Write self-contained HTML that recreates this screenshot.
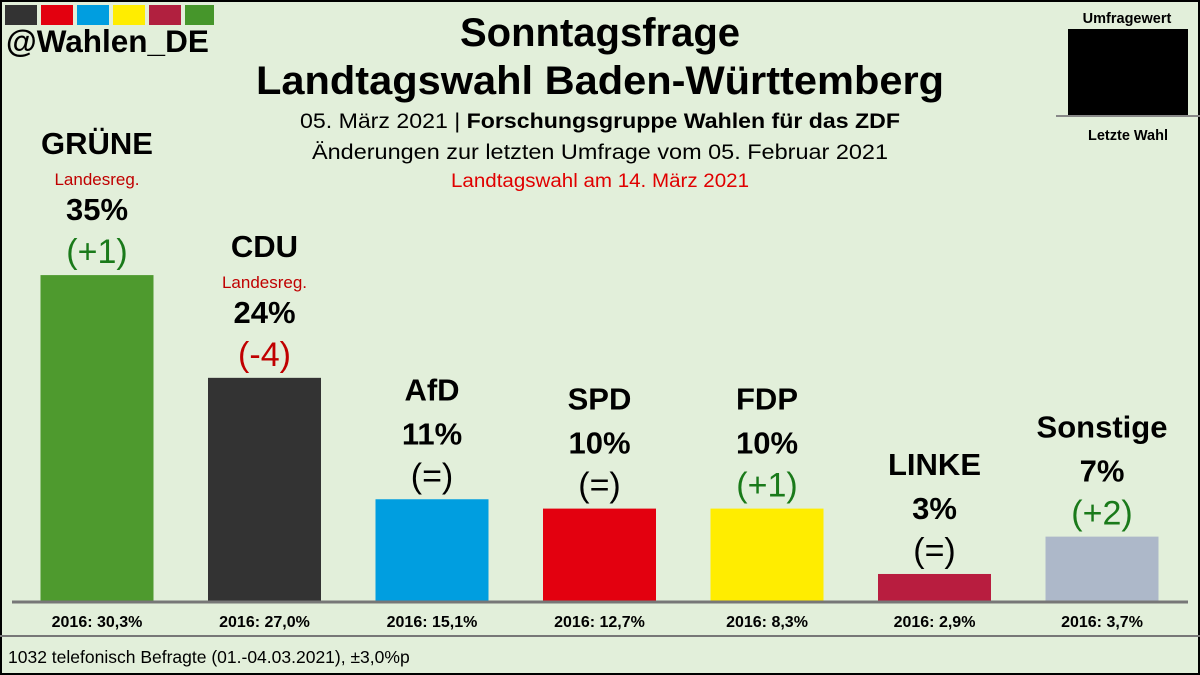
<!DOCTYPE html>
<html><head><meta charset="utf-8"><style>
html,body{margin:0;padding:0;background:#e2efda;}
svg{display:block;font-family:"Liberation Sans","DejaVu Sans",sans-serif;}
</style></head><body>
<svg id="c" width="1200" height="675" viewBox="0 0 1200 675">
<rect x="0" y="0" width="1200" height="675" fill="#e2efda"/>
<rect x="1" y="1" width="1198" height="673" fill="none" stroke="#000" stroke-width="2"/>
<g>
<rect x="5" y="5" width="32" height="20" fill="#333"/><rect x="41" y="5" width="32" height="20" fill="#e3000f"/><rect x="77" y="5" width="32" height="20" fill="#009ee0"/><rect x="113" y="5" width="32" height="20" fill="#ffed00"/><rect x="149" y="5" width="32" height="20" fill="#b1203f"/><rect x="185" y="5" width="29" height="20" fill="#46962b"/>
</g>
<text x="6" y="52" font-size="31.5" font-weight="bold">@Wahlen_DE</text>
<text x="600" y="46" font-size="40" font-weight="bold" text-anchor="middle">Sonntagsfrage</text>
<text x="600" y="94" font-size="40" font-weight="bold" text-anchor="middle" textLength="688" lengthAdjust="spacingAndGlyphs">Landtagswahl Baden-Württemberg</text>
<text x="600" y="128" font-size="21" text-anchor="middle" textLength="600" lengthAdjust="spacingAndGlyphs">05. März 2021 | <tspan font-weight="bold">Forschungsgruppe Wahlen für das ZDF</tspan></text>
<text x="600" y="159" font-size="21" text-anchor="middle" textLength="576" lengthAdjust="spacingAndGlyphs">Änderungen zur letzten Umfrage vom 05. Februar 2021</text>
<text x="600" y="187" font-size="19" fill="#e00000" text-anchor="middle" textLength="298" lengthAdjust="spacingAndGlyphs">Landtagswahl am 14. März 2021</text>
<g>
<text x="1127" y="23" font-size="14.5" font-weight="bold" text-anchor="middle">Umfragewert</text>
<rect x="1068" y="29" width="120" height="87" fill="#000"/>
<line x1="1056" y1="116" x2="1200" y2="116" stroke="#888" stroke-width="2"/>
<text x="1128" y="140" font-size="14.5" font-weight="bold" text-anchor="middle">Letzte Wahl</text>
</g>
<g id="bars"></g>
<line x1="12" y1="602" x2="1188" y2="602" stroke="#777" stroke-width="3"/>
<line x1="0" y1="636" x2="1200" y2="636" stroke="#777" stroke-width="2"/>
<text x="8" y="663" font-size="17.5">1032 telefonisch Befragte (01.-04.03.2021), ±3,0%p</text>
</svg>
<script>
const parties = ["GRÜNE","CDU","AfD","SPD","FDP","LINKE","Sonstige"];
const values = [35,24,11,10,10,3,7];
const changes = ["(+1)","(-4)","(=)","(=)","(+1)","(=)","(+2)"];
const prev = ["2016: 30,3%","2016: 27,0%","2016: 15,1%","2016: 12,7%","2016: 8,3%","2016: 2,9%","2016: 3,7%"];
const gov = [true,true,false,false,false,false,false];
const colors = ["#4e9a2e","#333333","#009ee0","#e3000f","#ffed00","#b81d3f","#adb8c9"];
const NS="http://www.w3.org/2000/svg";
const g=document.getElementById('bars');
const base=602, pxPer=9.34, x0=97, step=167.5, bw=113;
function xPos(i){return x0+i*step;}
function yPos(v){return base-v*pxPer;}
function mk(tag,attrs,txt){const e=document.createElementNS(NS,tag);for(const k in attrs)e.setAttribute(k,attrs[k]);if(txt!==undefined)e.textContent=txt;g.appendChild(e);return e;}
parties.forEach((p,i)=>{
  const cx=xPos(i), top=yPos(values[i]);
  const r=mk('rect',{x:cx-bw/2,y:top,width:bw,height:base-top,fill:colors[i]});
  
  
  const chCol=changes[i].includes('+')?'#1a7a1a':changes[i].includes('-')?'#c00000':'#000';
  const c=mk('text',{x:cx,y:top-12,'font-size':34,'text-anchor':'middle',fill:chCol},changes[i]);
  
  
  const v=mk('text',{x:cx,y:top-55,'font-size':31,'font-weight':'bold','text-anchor':'middle'},values[i]+'%');
  
  
  let ny=top-99;
  if(gov[i]){
    const l=mk('text',{x:cx,y:top-90,'font-size':17,'text-anchor':'middle',fill:'#c00000'},'Landesreg.');
    
    
    ny=top-121;
  }
  const n=mk('text',{x:cx,y:ny,'font-size':31,'font-weight':'bold','text-anchor':'middle'},p);
  
  
  const pv=mk('text',{x:cx,y:627,'font-size':16,'font-weight':'bold','text-anchor':'middle'},prev[i]);
  
  
});
</script>
</body></html>
